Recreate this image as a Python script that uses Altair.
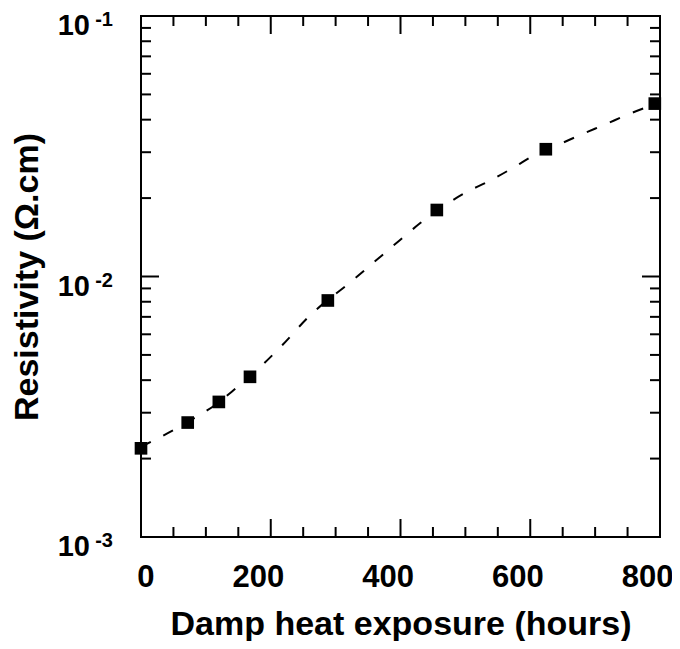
import altair as alt
import pandas as pd

# measured data points
hours = [0, 72, 120, 168, 288, 456, 624, 792]
resistivity = [2.19e-3, 2.75e-3, 3.30e-3, 4.12e-3, 8.09e-3, 1.80e-2, 3.08e-2, 4.61e-2]

# dashed fit curve
fit_hours = [0, 42, 83, 115, 147, 184, 218, 259, 326, 362, 398, 431, 502, 539,
             573, 608, 645, 680, 716, 751, 800]
fit_res = [2.22e-3, 2.51e-3, 2.87e-3, 3.22e-3, 3.74e-3, 4.50e-3, 5.46e-3, 7.03e-3,
           9.65e-3, 1.151e-2, 1.372e-2, 1.607e-2, 2.11e-2, 2.34e-2, 2.61e-2,
           2.94e-2, 3.22e-2, 3.52e-2, 3.84e-2, 4.19e-2, 4.66e-2]

# ticks
x_major = [0, 200, 400, 600, 800]
x_minor = [50, 100, 150, 250, 300, 350, 450, 500, 550, 650, 700, 750]
y_major = [1e-3, 1e-2, 1e-1]
y_exp = ["-3", "-2", "-1"]
y_minor = [2e-3, 3e-3, 4e-3, 5e-3, 6e-3, 7e-3, 8e-3, 9e-3,
           2e-2, 3e-2, 4e-2, 5e-2, 6e-2, 7e-2, 8e-2, 9e-2]

W, H = 519, 521
FONT = "Liberation Sans"
MAJ, MIN = 18, 10

xs = alt.Scale(domain=[0, 800], nice=False, zero=False)
ys = alt.Scale(type="log", domain=[1e-3, 1e-1], nice=False)

pts = pd.DataFrame({"h": hours, "r": resistivity})
fit = pd.DataFrame({"h": fit_hours, "r": fit_res})
dxmaj = pd.DataFrame({"h": x_major})
dxmin = pd.DataFrame({"h": x_minor})
dymaj = pd.DataFrame({"r": y_major, "e": y_exp, "b": ["10"] * 3})
dymin = pd.DataFrame({"r": y_minor})

xaxis = alt.Axis(values=x_major, ticks=False, tickSize=0, domain=False, grid=False,
                 labelFont=FONT, labelFontSize=31, labelFontWeight="bold",
                 labelColor="black", labelAlign="right", labelOffset=13,
                 labelBaseline="alphabetic", labelPadding=49, labelFlush=False,
                 title="Damp heat exposure (hours)", titleFont=FONT,
                 titleFontSize=34, titleFontWeight="bold", titleColor="black",
                 titleBaseline="alphabetic", titleX=W / 2, titleY=97)
yaxis = alt.Axis(labels=False, ticks=False, tickSize=0, domain=False, grid=False,
                 title="Resistivity (Ω.cm)", titleFont=FONT, titleFontSize=34,
                 titleFontWeight="bold", titleColor="black", titleAngle=270,
                 titleBaseline="alphabetic", titleX=-104, titleY=H / 2,
                 titleAlign="center")

X = alt.X("h:Q", scale=xs, axis=xaxis)
Y = alt.Y("r:Q", scale=ys, axis=yaxis)

line = alt.Chart(fit).mark_line(color="black", strokeWidth=2, strokeDash=[11, 14],
                                interpolate="monotone").encode(x=X, y=Y)
points = alt.Chart(pts).mark_point(shape="square", filled=True, color="black",
                                   size=160, opacity=1).encode(x=X, y=Y)

rule = dict(color="black", strokeWidth=2)
xt = [
    alt.Chart(dxmaj).mark_rule(**rule).encode(x=X, y=alt.value(H), y2=alt.value(H - MAJ)),
    alt.Chart(dxmaj).mark_rule(**rule).encode(x=X, y=alt.value(0), y2=alt.value(MAJ)),
    alt.Chart(dxmin).mark_rule(**rule).encode(x=X, y=alt.value(H), y2=alt.value(H - MIN)),
    alt.Chart(dxmin).mark_rule(**rule).encode(x=X, y=alt.value(0), y2=alt.value(MIN)),
]
yt = [
    alt.Chart(dymaj).mark_rule(**rule).encode(y=Y, x=alt.value(0), x2=alt.value(MAJ)),
    alt.Chart(dymaj).mark_rule(**rule).encode(y=Y, x=alt.value(W), x2=alt.value(W - MAJ)),
    alt.Chart(dymin).mark_rule(**rule).encode(y=Y, x=alt.value(0), x2=alt.value(MIN)),
    alt.Chart(dymin).mark_rule(**rule).encode(y=Y, x=alt.value(W), x2=alt.value(W - MIN)),
]

ylab_base = alt.Chart(dymaj).mark_text(font=FONT, fontSize=29, fontWeight="bold",
                                       color="black", align="right",
                                       baseline="alphabetic", dy=19).encode(
    y=Y, x=alt.value(-51), text="b:N")
ylab_exp = alt.Chart(dymaj).mark_text(font=FONT, fontSize=20, fontWeight="bold",
                                      color="black", align="right",
                                      baseline="alphabetic", dy=10).encode(
    y=Y, x=alt.value(-28), text="e:N")

chart = alt.layer(line, *xt, *yt, ylab_base, ylab_exp, points).properties(
    width=W, height=H,
    background="white",
    autosize=alt.AutoSizeParams(type="none"),
    padding={"left": 133, "top": 8, "right": 12, "bottom": 104},
).configure_view(stroke="black", strokeWidth=2)

chart.save("out.html", embed_options={"renderer": "svg", "actions": False})
